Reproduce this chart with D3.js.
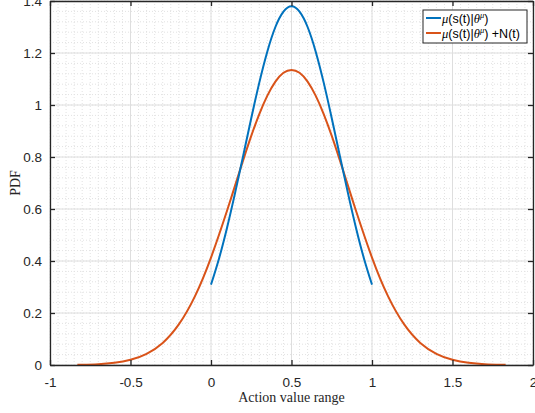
<!DOCTYPE html>
<html>
<head>
<meta charset="utf-8">
<script src="https://cdn.jsdelivr.net/npm/d3@7"></script>
<style>
  body { margin: 0; background: #fff; }
  svg { display: block; }
</style>
</head>
<body>
<svg id="chart" width="535" height="413"></svg>
<script>
// values
var actorX = [0, 0.05, 0.1, 0.15, 0.2, 0.25, 0.3, 0.35, 0.4, 0.45, 0.5, 0.55, 0.6, 0.65, 0.7, 0.75, 0.8, 0.85, 0.9, 0.95, 1];
var actorY = [0.309, 0.410, 0.529, 0.663, 0.805, 0.949, 1.086, 1.206, 1.300, 1.359, 1.380, 1.359, 1.300, 1.206, 1.086, 0.949, 0.805, 0.663, 0.529, 0.410, 0.309];

var noisyX = [-0.83, -0.8, -0.7, -0.6, -0.5, -0.4, -0.3, -0.2, -0.1, 0, 0.1, 0.15, 0.2, 0.25, 0.3, 0.35, 0.4, 0.45, 0.5,
              0.55, 0.6, 0.65, 0.7, 0.75, 0.8, 0.85, 0.9, 1, 1.1, 1.2, 1.3, 1.4, 1.5, 1.6, 1.7, 1.8, 1.83];
var noisyY = [0.0008, 0.0012, 0.0033, 0.0085, 0.020, 0.043, 0.085, 0.156, 0.264, 0.413, 0.594, 0.691, 0.788, 0.881, 0.965, 1.036, 1.090, 1.124, 1.135,
              1.124, 1.090, 1.036, 0.965, 0.881, 0.788, 0.691, 0.594, 0.413, 0.264, 0.156, 0.085, 0.043, 0.020, 0.0085, 0.0033, 0.0012, 0.0008];

var xTicks = [-1, -0.5, 0, 0.5, 1, 1.5, 2];
var xTickLabels = ["-1", "-0.5", "0", "0.5", "1", "1.5", "2"];
var yTicks = [0, 0.2, 0.4, 0.6, 0.8, 1, 1.2, 1.4];
var yTickLabels = ["0", "0.2", "0.4", "0.6", "0.8", "1", "1.2", "1.4"];

var margin = {left: 50, top: 1, right: 2, bottom: 48};
var W = 535, H = 413;
var pw = W - margin.left - margin.right, ph = H - margin.top - margin.bottom;

var svg = d3.select("#chart");
var g = svg.append("g").attr("transform", "translate(" + margin.left + "," + margin.top + ")");

var x = d3.scaleLinear().domain([-1, 2]).range([0, pw]);
var y = d3.scaleLinear().domain([0, 1.4]).range([ph, 0]);

// minor grid (dotted)
var xMinor = d3.range(-1, 2.0001, 0.05), yMinor = d3.range(0, 1.4001, 0.04);
var grid = g.append("g");
grid.selectAll(".xminor").data(xMinor).enter().append("line")
  .attr("x1", d => x(d)).attr("x2", d => x(d)).attr("y1", 0).attr("y2", ph)
  .attr("stroke", "#e2e2e2").attr("stroke-width", 1).attr("stroke-dasharray", "1,2");
grid.selectAll(".yminor").data(yMinor).enter().append("line")
  .attr("y1", d => y(d)).attr("y2", d => y(d)).attr("x1", 0).attr("x2", pw)
  .attr("stroke", "#e2e2e2").attr("stroke-width", 1).attr("stroke-dasharray", "1,2");

// major grid
grid.selectAll(".xmajor").data(xTicks).enter().append("line")
  .attr("x1", d => x(d)).attr("x2", d => x(d)).attr("y1", 0).attr("y2", ph)
  .attr("stroke", "#dedede").attr("stroke-width", 1);
grid.selectAll(".ymajor").data(yTicks).enter().append("line")
  .attr("y1", d => y(d)).attr("y2", d => y(d)).attr("x1", 0).attr("x2", pw)
  .attr("stroke", "#dedede").attr("stroke-width", 1);

// curves
var line = d3.line().x(d => x(d[0])).y(d => y(d[1])).curve(d3.curveNatural);
g.append("path").datum(noisyX.map((v, i) => [v, noisyY[i]]))
  .attr("d", line).attr("fill", "none").attr("stroke", "#D95319").attr("stroke-width", 2);
g.append("path").datum(actorX.map((v, i) => [v, actorY[i]]))
  .attr("d", line).attr("fill", "none").attr("stroke", "#0072BD").attr("stroke-width", 2);

// axes box and ticks
var axisColor = "#262626";
var font = "'Liberation Sans', Arial, sans-serif";
var axes = g.append("g");
axes.append("g").attr("transform", "translate(0," + ph + ")")
  .call(d3.axisBottom(x).tickValues(xTicks).tickSizeInner(-5).tickSizeOuter(0)
    .tickPadding(12).tickFormat((d, i) => xTickLabels[i]));
axes.append("g")
  .call(d3.axisLeft(y).tickValues(yTicks).tickSizeInner(-5).tickSizeOuter(0)
    .tickPadding(8).tickFormat((d, i) => yTickLabels[i]));
axes.append("g").call(d3.axisTop(x).tickValues(xTicks).tickSizeInner(-5).tickSizeOuter(0).tickFormat(""));
axes.append("g").attr("transform", "translate(" + pw + ",0)")
  .call(d3.axisRight(y).tickValues(yTicks).tickSizeInner(-5).tickSizeOuter(0).tickFormat(""));
axes.selectAll(".domain, .tick line").attr("stroke", axisColor).attr("stroke-width", 1.3);
axes.selectAll(".tick text").attr("fill", axisColor).style("font-family", font).style("font-size", "13.5px");

// axis labels
svg.append("text").attr("x", margin.left + pw / 2).attr("y", 402)
  .attr("text-anchor", "middle").style("font-family", "'Liberation Serif', 'Times New Roman', serif")
  .style("font-size", "14px").attr("fill", axisColor).text("Action value range");
svg.append("text").attr("transform", "translate(20," + (margin.top + ph / 2) + ") rotate(-90)")
  .attr("text-anchor", "middle").style("font-family", "'Liberation Serif', 'Times New Roman', serif")
  .style("font-size", "14px").attr("fill", axisColor).text("PDF");

// legend
var lg = svg.append("g").attr("transform", "translate(423,10)");
lg.append("rect").attr("width", 104).attr("height", 33).attr("fill", "#fff")
  .attr("stroke", axisColor).attr("stroke-width", 1);
var entries = [{c: "#0072BD", extra: ""}, {c: "#D95319", extra: " +N(t)"}];
entries.forEach(function(e, i) {
  var yy = 8 + i * 15;
  lg.append("line").attr("x1", 3).attr("x2", 18).attr("y1", yy).attr("y2", yy)
    .attr("stroke", e.c).attr("stroke-width", 2);
  var t = lg.append("text").attr("x", 19).attr("y", yy + 4.5)
    .style("font-family", font).style("font-size", "12.5px").attr("fill", "#000");
  t.append("tspan").style("font-family", "'Liberation Serif', serif").style("font-style", "italic").text("\u03bc");
  t.append("tspan").text("(s(t)|");
  t.append("tspan").style("font-family", "'Liberation Serif', serif").style("font-style", "italic").text("\u03b8");
  t.append("tspan").attr("dy", -4.5).style("font-size", "8.5px")
    .style("font-family", "'Liberation Serif', serif").style("font-style", "italic").text("\u03bc");
  t.append("tspan").attr("dy", 4.5).text(")" + e.extra);
});
</script>
</body>
</html>
